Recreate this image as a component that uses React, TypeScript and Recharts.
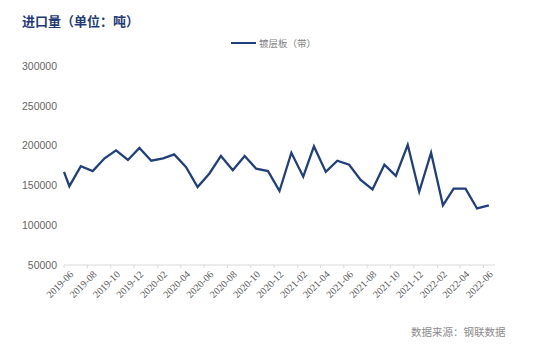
import { LineChart, Line, XAxis, YAxis } from "recharts";

const title = "进口量（单位：吨）";
const seriesName = "镀层板（带）";
const source = "数据来源：钢联数据";

const dates = [
  "2019-06-01", "2019-06-15", "2019-07-15", "2019-08-15", "2019-09-15", "2019-10-15",
  "2019-11-15", "2019-12-15", "2020-01-15", "2020-02-15", "2020-03-15", "2020-04-15",
  "2020-05-15", "2020-06-15", "2020-07-15", "2020-08-15", "2020-09-15", "2020-10-15",
  "2020-11-15", "2020-12-15", "2021-01-15", "2021-02-15", "2021-03-15", "2021-04-15",
  "2021-05-15", "2021-06-15", "2021-07-15", "2021-08-15", "2021-09-15", "2021-10-15",
  "2021-11-15", "2021-12-15", "2022-01-15", "2022-02-15", "2022-03-15", "2022-04-15",
  "2022-05-15", "2022-06-15",
];

const values = [
  167000, 149000, 174000, 168000, 184000, 194000, 182000, 197000, 181000, 184000,
  189000, 173000, 148000, 165000, 187000, 169000, 187000, 171000, 168000, 143000,
  191000, 161000, 199000, 167000, 181000, 176000, 157000, 145000, 176000, 162000,
  201000, 142000, 191000, 125000, 146000, 146000, 121000, 125000,
];

const tickLabels = [
  "2019-06", "2019-08", "2019-10", "2019-12", "2020-02", "2020-04", "2020-06",
  "2020-08", "2020-10", "2020-12", "2021-02", "2021-04", "2021-06", "2021-08",
  "2021-10", "2021-12", "2022-02", "2022-04", "2022-06",
];

const yTicks = [50000, 100000, 150000, 200000, 250000, 300000];

const data = dates.map((d, i) => ({ t: Date.parse(d), value: values[i] }));
const xTicks = tickLabels.map((l) => Date.parse(l + "-01"));

const LINE = "#1f3f7f";

function XTick(props: any) {
  const { x, y, payload } = props;
  const idx = xTicks.indexOf(payload.value);
  const label = idx >= 0 ? tickLabels[idx] : "";
  const tx = x + 10;
  const ty = y + 5;
  return (
    <text
      x={tx}
      y={ty}
      transform={`rotate(-45, ${tx}, ${ty})`}
      textAnchor="end"
      fontSize={10}
      fontFamily="Liberation Serif, serif"
      fill="#595959"
    >
      {label}
    </text>
  );
}

export default function App() {
  return (
    <div
      style={{
        position: "absolute",
        left: 0,
        top: 0,
        width: 554,
        height: 355,
        background: "#fff",
        fontFamily: "Noto Sans CJK SC, sans-serif",
      }}
    >
      <div
        style={{
          position: "absolute",
          left: 22,
          top: 11,
          fontSize: 13,
          fontWeight: 700,
          color: "#1f3b78",
          whiteSpace: "nowrap",
        }}
      >
        {title}
      </div>

      <div
        style={{
          position: "absolute",
          left: 231,
          top: 36,
          display: "flex",
          alignItems: "center",
          fontSize: 9.5,
          color: "#7f7f7f",
          whiteSpace: "nowrap",
        }}
      >
        <span
          style={{
            display: "inline-block",
            width: 25,
            height: 2.5,
            background: LINE,
            marginRight: 3,
          }}
        />
        {seriesName}
      </div>

      <LineChart
        width={554}
        height={355}
        data={data}
        margin={{ top: 66, right: 59, bottom: 0, left: 0 }}
      >
        <XAxis
          dataKey="t"
          type="number"
          domain={[Date.parse("2019-06-01"), Date.parse("2022-07-01")]}
          ticks={xTicks}
          interval={0}
          height={90}
          stroke="#d9d9d9"
          tickSize={3}
          tickMargin={2}
          tick={<XTick />}
        />
        <YAxis
          domain={[50000, 300000]}
          ticks={yTicks}
          width={64}
          axisLine={false}
          tickLine={false}
          tickSize={0}
          tickMargin={7}
          tick={{ fontSize: 10.5, fill: "#666666", fontFamily: "Liberation Sans, sans-serif" }}
        />
        <Line
          dataKey="value"
          stroke={LINE}
          strokeWidth={2.3}
          dot={false}
          type="linear"
          isAnimationActive={false}
        />
      </LineChart>

      <div
        style={{
          position: "absolute",
          left: 411,
          top: 324,
          fontSize: 10.5,
          color: "#8c8c8c",
          whiteSpace: "nowrap",
        }}
      >
        {source}
      </div>
    </div>
  );
}
